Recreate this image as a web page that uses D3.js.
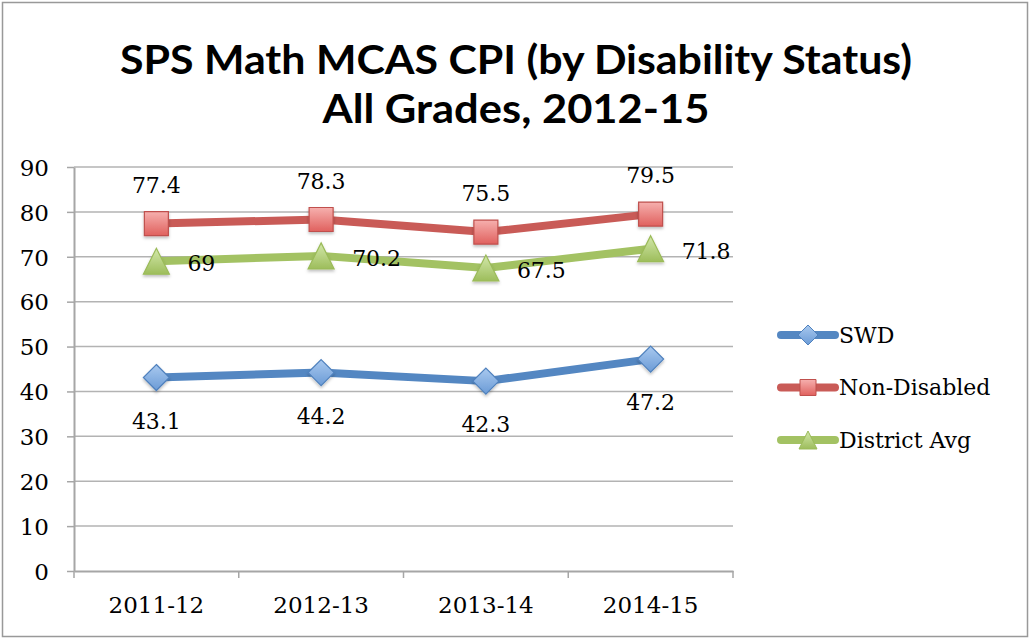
<!DOCTYPE html>
<html>
<head>
<meta charset="utf-8">
<script src="https://cdn.jsdelivr.net/npm/d3@7"></script>
<style>
  body { margin: 0; background: #fff; }
  svg { display: block; }
</style>
</head>
<body>
<div id="chart"></div>
<script>
// data
var years = ["2011-12", "2012-13", "2013-14", "2014-15"];
var swd = [43.1, 44.2, 42.3, 47.2];
var nonDisabled = [77.4, 78.3, 75.5, 79.5];
var districtAvg = [69, 70.2, 67.5, 71.8];
var yTicks = [0, 10, 20, 30, 40, 50, 60, 70, 80, 90];

var w = 1031, h = 639;

var svg = d3.select("#chart").append("svg")
    .attr("width", w)
    .attr("height", h);

var defs = svg.append("defs");

function grad(id, top, bottom) {
    var g = defs.append("linearGradient").attr("id", id)
        .attr("x1", 0).attr("y1", 0).attr("x2", 0).attr("y2", 1);
    g.append("stop").attr("offset", "0%").attr("stop-color", top);
    g.append("stop").attr("offset", "100%").attr("stop-color", bottom);
}
grad("gBlue", "#a9c9ef", "#6b9bd6");
grad("gRed", "#f6b0ae", "#e0615e");
grad("gGreen", "#d3e8ab", "#9dbd5b");

defs.append("filter").attr("id", "shadow")
    .attr("x", "-50%").attr("y", "-50%").attr("width", "200%").attr("height", "200%")
    .append("feDropShadow")
    .attr("dx", 0).attr("dy", 2).attr("stdDeviation", 1.5)
    .attr("flood-color", "#000").attr("flood-opacity", 0.25);

// outer chart border
svg.append("rect")
    .attr("x", 2.5).attr("y", 2.5)
    .attr("width", 1025).attr("height", 634)
    .attr("fill", "none")
    .attr("stroke", "#999")
    .attr("stroke-width", 1.5);

// title
var titleFont = "Lato, 'Open Sans', sans-serif";
svg.append("text")
    .attr("x", 516).attr("y", 74)
    .attr("text-anchor", "middle")
    .attr("font-family", titleFont)
    .attr("font-weight", "bold")
    .attr("font-size", 41)
    .attr("textLength", 792)
    .attr("lengthAdjust", "spacingAndGlyphs")
    .text("SPS Math MCAS CPI (by Disability Status)");
svg.append("text")
    .attr("x", 516).attr("y", 123)
    .attr("text-anchor", "middle")
    .attr("font-family", titleFont)
    .attr("font-weight", "bold")
    .attr("font-size", 41)
    .attr("textLength", 387)
    .attr("lengthAdjust", "spacingAndGlyphs")
    .text("All Grades, 2012-15");

// scales
var x = d3.scaleBand().domain(years).range([74, 733]);
var y = d3.scaleLinear().domain([0, 90]).range([571, 167]);
function cx(i) { return x(years[i]) + x.bandwidth() / 2; }

var serif = "'DejaVu Serif', 'Liberation Serif', serif";

// gridlines
svg.append("g").selectAll("line")
    .data(yTicks.slice(1))
    .enter().append("line")
    .attr("x1", 74).attr("x2", 733)
    .attr("y1", function (d) { return y(d); })
    .attr("y2", function (d) { return y(d); })
    .attr("stroke", "#b3b3b3")
    .attr("stroke-width", 1.5);

// y axis
var yAxis = svg.append("g")
    .attr("transform", "translate(74,0)")
    .call(d3.axisLeft(y).tickValues(yTicks).tickSize(7).tickPadding(18).tickSizeOuter(0));
yAxis.select(".domain").attr("stroke", "#a6a6a6").attr("stroke-width", 2);
yAxis.selectAll(".tick line").attr("stroke", "#a6a6a6").attr("stroke-width", 1.5);
yAxis.selectAll(".tick text")
    .attr("font-family", serif)
    .attr("font-size", 23)
    .attr("fill", "#000")
    .attr("dy", "0.36em");

// x axis
var xAxis = svg.append("g")
    .attr("transform", "translate(0,571)")
    .call(d3.axisBottom(x).tickSize(0).tickPadding(34).tickSizeOuter(0));
xAxis.select(".domain").attr("stroke", "#a6a6a6").attr("stroke-width", 2);
xAxis.selectAll(".tick text")
    .attr("font-family", serif)
    .attr("font-size", 23)
    .attr("fill", "#000")
    .attr("dy", "0.36em");
// tick marks sit on category boundaries
xAxis.selectAll(".bound")
    .data(years.map(function (d) { return x(d); }).concat([x.range()[1]]))
    .enter().append("line")
    .attr("class", "bound")
    .attr("x1", function (d) { return d; })
    .attr("x2", function (d) { return d; })
    .attr("y1", 0).attr("y2", 7)
    .attr("stroke", "#a6a6a6")
    .attr("stroke-width", 1.5);

// marker shapes
function diamond(s) {
    return "M0," + (-s) + "L" + s + ",0L0," + s + "L" + (-s) + ",0Z";
}
function square(s) {
    return "M" + (-s) + "," + (-s) + "H" + s + "V" + s + "H" + (-s) + "Z";
}
function triangle(s) {
    return "M0," + (-s) + "L" + s + "," + s + "L" + (-s) + "," + s + "Z";
}

var series = [
    { name: "SWD", values: swd, color: "#5487c2", fill: "url(#gBlue)", stroke: "#4f81bd", shape: diamond, size: 13, legendSize: 10, label: "below" },
    { name: "Non-Disabled", values: nonDisabled, color: "#c95b57", fill: "url(#gRed)", stroke: "#c0504d", shape: square, size: 12, legendSize: 8, label: "above" },
    { name: "District Avg", values: districtAvg, color: "#a3c263", fill: "url(#gGreen)", stroke: "#9bbb59", shape: triangle, size: 13, legendSize: 9, label: "right" }
];

var line = d3.line()
    .x(function (d, i) { return cx(i); })
    .y(function (d) { return y(d); });

series.forEach(function (s) {
    var g = svg.append("g");
    g.append("path")
        .attr("d", line(s.values))
        .attr("fill", "none")
        .attr("stroke", s.color)
        .attr("stroke-width", 8)
        .attr("stroke-linejoin", "round")
        .attr("stroke-linecap", "round");

    g.selectAll(".mark")
        .data(s.values)
        .enter().append("path")
        .attr("class", "mark")
        .attr("transform", function (d, i) { return "translate(" + cx(i) + "," + y(d) + ")"; })
        .attr("d", s.shape(s.size))
        .attr("fill", s.fill)
        .attr("stroke", s.stroke)
        .attr("stroke-width", 1.2)
        .attr("filter", "url(#shadow)");

    g.selectAll(".lbl")
        .data(s.values)
        .enter().append("text")
        .attr("class", "lbl")
        .attr("font-family", serif)
        .attr("font-size", 22)
        .attr("fill", "#000")
        .attr("x", function (d, i) {
            return s.label === "right" ? cx(i) + 31 : cx(i);
        })
        .attr("y", function (d) {
            if (s.label === "above") return y(d) - 31;
            if (s.label === "below") return y(d) + 51;
            return y(d) + 10;
        })
        .attr("text-anchor", s.label === "right" ? "start" : "middle")
        .text(function (d) { return d; });
});

// legend
var legend = svg.append("g");
series.forEach(function (s, i) {
    var ly = 335 + i * 52.5;
    var item = legend.append("g").attr("transform", "translate(0," + ly + ")");
    item.append("line")
        .attr("x1", 781).attr("x2", 835)
        .attr("y1", 0).attr("y2", 0)
        .attr("stroke", s.color)
        .attr("stroke-width", 8)
        .attr("stroke-linecap", "round");
    item.append("path")
        .attr("transform", "translate(808,0)")
        .attr("d", s.shape(s.legendSize))
        .attr("fill", s.fill)
        .attr("stroke", s.stroke)
        .attr("stroke-width", 1);
    item.append("text")
        .attr("x", 839).attr("y", 0)
        .attr("dy", "0.36em")
        .attr("font-family", serif)
        .attr("font-size", 22)
        .attr("fill", "#000")
        .text(s.name);
});
</script>
</body>
</html>
